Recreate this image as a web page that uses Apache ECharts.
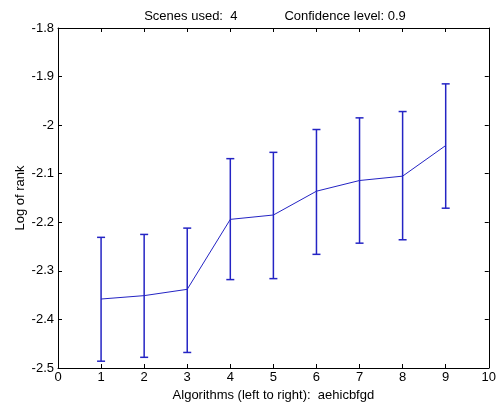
<!DOCTYPE html>
<html>
<head>
<meta charset="utf-8">
<script src="https://cdn.jsdelivr.net/npm/echarts@6/dist/echarts.min.js"></script>
<style>
  html, body { margin: 0; padding: 0; background: #fff; }
  #main { width: 499px; height: 408px; }
</style>
</head>
<body>
<div id="main"></div>
<script>
// algorithm positions along x
var xPos = [1, 2, 3, 4, 5, 6, 7, 8, 9]
// mean log rank
var meanVals = [-2.358, -2.351, -2.338, -2.194, -2.185, -2.136, -2.114, -2.105, -2.042]
// confidence interval bounds
var lowVals = [-2.486, -2.478, -2.468, -2.318, -2.316, -2.266, -2.243, -2.236, -2.171]
var highVals = [-2.231, -2.225, -2.212, -2.069, -2.056, -2.009, -1.985, -1.972, -1.915]

var blue = '#2424c4'
var font = 'Liberation Sans, Arial, sans-serif'
var fs = 13

var lineData = xPos.map(function (x, i) { return [x, meanVals[i]] })
var barData = xPos.map(function (x, i) { return [x, lowVals[i], highVals[i]] })

var myChart = echarts.init(document.getElementById('main'))

var axisCommon = {
  axisLine: { show: true, onZero: false, lineStyle: { color: '#000', width: 1 } },
  axisTick: { show: true, inside: true, length: 4, lineStyle: { color: '#000' } },
  splitLine: { show: false }
}

var option = {
  animation: false,
  backgroundColor: '#fff',
  title: {
    text: 'Scenes used:  4             Confidence level: 0.9',
    left: 270, top: 5, textAlign: 'center',
    textStyle: { fontFamily: font, fontSize: fs, fontWeight: 'normal', color: '#000' }
  },
  // y axis title, placed by hand so it sits where the reference has it
  graphic: [{
    type: 'text',
    x: 20, y: 198,
    rotation: Math.PI / 2,
    style: {
      text: 'Log of rank',
      font: fs + 'px ' + font,
      fill: '#000',
      align: 'center',
      verticalAlign: 'middle'
    }
  }],
  grid: { left: 58, right: 10, top: 28, bottom: 40 },
  xAxis: [
    Object.assign({
      type: 'value', min: 0, max: 10, interval: 1,
      name: 'Algorithms (left to right):  aehicbfgd',
      nameLocation: 'middle', nameGap: 21,
      nameTextStyle: { fontFamily: font, fontSize: fs, color: '#000' },
      axisLabel: { fontFamily: font, fontSize: fs, color: '#000', margin: 3 }
    }, axisCommon),
    Object.assign({
      type: 'value', min: 0, max: 10, interval: 1, position: 'top',
      axisLabel: { show: false }
    }, axisCommon)
  ],
  yAxis: [
    Object.assign({
      type: 'value', min: -2.5, max: -1.8, interval: 0.1,
      axisLabel: { fontFamily: font, fontSize: fs, color: '#000', margin: 4 }
    }, axisCommon),
    Object.assign({
      type: 'value', min: -2.5, max: -1.8, interval: 0.1, position: 'right',
      axisLabel: { show: false }
    }, axisCommon)
  ],
  series: [
    {
      type: 'line',
      data: lineData,
      symbol: 'none',
      lineStyle: { color: blue, width: 1 },
      z: 3
    },
    {
      type: 'custom',
      data: barData,
      z: 2,
      renderItem: function (params, api) {
        var x = api.value(0)
        var lo = api.coord([x, api.value(1)])
        var hi = api.coord([x, api.value(2)])
        var half = 4
        var style = { stroke: blue, lineWidth: 1.5 }
        return {
          type: 'group',
          children: [
            { type: 'line', shape: { x1: lo[0], y1: lo[1], x2: hi[0], y2: hi[1] }, style: style },
            { type: 'line', shape: { x1: lo[0] - half, y1: lo[1], x2: lo[0] + half, y2: lo[1] }, style: style },
            { type: 'line', shape: { x1: hi[0] - half, y1: hi[1], x2: hi[0] + half, y2: hi[1] }, style: style }
          ]
        }
      }
    }
  ]
}

myChart.setOption(option)
</script>
</body>
</html>
